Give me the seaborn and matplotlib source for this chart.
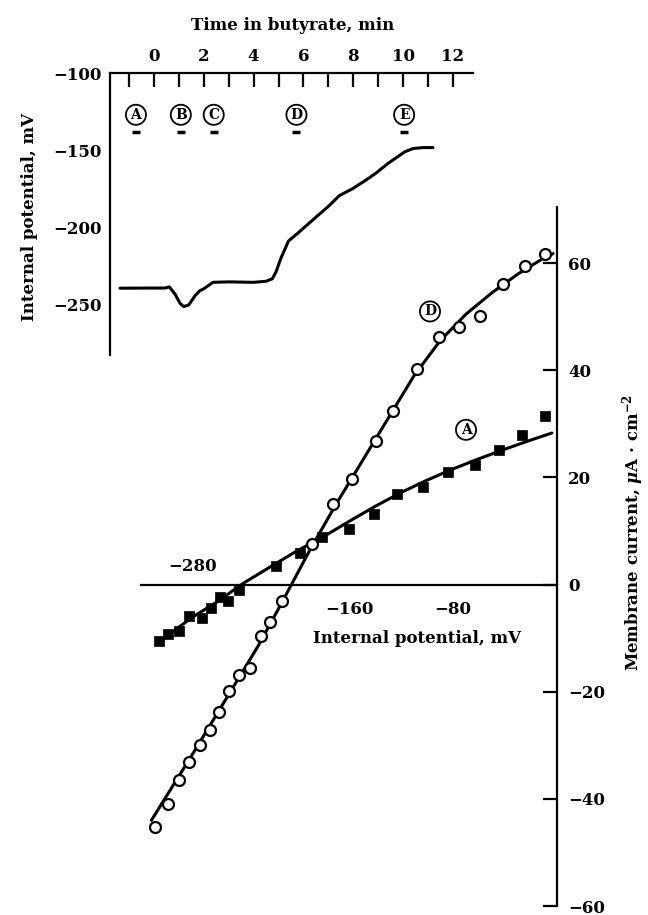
import matplotlib
matplotlib.use("Agg")
import matplotlib.pyplot as plt
import seaborn as sns

# inset: membrane potential vs time in butyrate
time_min = [-1.36, 0.44, 0.62, 0.85, 1.05, 1.2, 1.4, 1.65, 1.84, 2.0, 2.37, 3.0, 4.0, 4.5,
            4.75, 4.9, 5.1, 5.4, 5.8, 6.5, 7.0, 7.44, 7.97, 8.5, 8.9, 9.4, 10.07, 10.4, 10.8, 11.2]
potential_trace = [-239.6, -239.5, -238.8, -243.5, -249.5, -251.5, -250.5, -244.5, -241.3, -240,
                   -235.8, -235.5, -235.8, -235.1, -233.5, -229, -220, -209, -203.5, -193.5,
                   -186.5, -179.5, -175, -169.5, -165, -158.5, -151, -148.9, -148.3, -148.3]
event_labels = ["A", "B", "C", "D", "E"]
event_times = [-0.72, 1.08, 2.4, 5.72, 10.04]

# main: I-V relations, A (filled squares) and D (open circles)
a_v = [-306, -299, -291, -283, -273, -266, -259, -253, -245, -216, -198, -181, -160, -141,
       -123, -103, -84, -63, -45, -27, -9]
a_i = [-10.6, -9.2, -8.6, -5.9, -6.2, -4.4, -2.4, -3.1, -1.0, 3.5, 5.9, 8.9, 10.4, 13.2,
       16.9, 18.2, 21.1, 22.3, 25.2, 28.0, 31.4]
a_fit_v = [-308, -280, -260, -243, -220, -200, -180, -160, -140, -120, -100, -80, -60, -40, -20, -4]
a_fit_i = [-11.0, -6.0, -3.0, 0.0, 3.4, 6.3, 8.9, 11.8, 14.6, 17.2, 19.5, 21.6, 23.5, 25.3, 27.0, 28.3]

d_v = [-309, -299.5, -291, -283, -274.6, -267, -259.8, -252, -244.4, -236, -228, -220.8,
       -211.8, -188.7, -172, -158, -139, -126, -108, -90.5, -75.4, -59, -41.3, -24.6, -9.2]
d_i = [-45.2, -40.9, -36.5, -33.2, -30.0, -27.2, -23.8, -19.8, -16.9, -15.5, -9.5, -7.0,
       -3.0, 7.5, 15.1, 19.7, 26.8, 32.5, 40.2, 46.2, 48.1, 50.2, 56.2, 59.5, 61.7]
d_fit_v = [-312, -280, -250, -230, -212, -190, -170, -150, -130, -110, -90, -70, -50, -30, -10, -3]
d_fit_i = [-44.0, -31.5, -19.5, -11.5, -3.5, 6.5, 15.0, 23.0, 31.0, 39.0, 45.5, 50.5, 54.5, 58.0, 61.0, 61.8]

sns.set_style("white")
plt.rcParams["font.family"] = ["DejaVu Serif"]
plt.rcParams["font.weight"] = "bold"
plt.rcParams["axes.labelweight"] = "bold"
plt.rcParams["font.size"] = 12
plt.rcParams["mathtext.fontset"] = "dejavuserif"
for k in ["text.color", "axes.labelcolor", "xtick.color", "ytick.color"]:
    plt.rcParams[k] = "black"

fig = plt.figure(figsize=(6.48, 9.15), dpi=100)

# ---- main I-V plot ----
ax = fig.add_axes([0.2176, 0.0098, 0.642, 0.764])
ax.patch.set_visible(False)
sns.lineplot(x=a_fit_v, y=a_fit_i, color="black", lw=2.2, estimator=None, ax=ax)
sns.lineplot(x=d_fit_v, y=d_fit_i, color="black", lw=2.2, estimator=None, ax=ax)
sns.scatterplot(x=a_v, y=a_i, marker="s", s=52, color="black", edgecolor="black", linewidth=0.5,
                ax=ax, zorder=3, clip_on=False)
sns.scatterplot(x=d_v, y=d_i, marker="o", s=62, facecolor="white", edgecolor="black", linewidth=1.6,
                ax=ax, zorder=4, clip_on=False)
ax.set_xlim(-320, 0)
ax.set_ylim(-60, 70.5)
for side in ["left", "top"]:
    ax.spines[side].set_visible(False)
ax.spines["bottom"].set_position(("data", 0))
ax.spines["bottom"].set_bounds(-320, 0)
ax.spines["right"].set_bounds(-60, 70.5)
for side in ["bottom", "right"]:
    ax.spines[side].set_linewidth(1.6)
    ax.spines[side].set_color("black")
ax.yaxis.tick_right()
ax.set_yticks([-60, -40, -20, 0, 20, 40, 60])
ax.tick_params(axis="y", direction="in", length=10, width=1.6, pad=8, labelsize=12)
xt = list(range(-320, 0, 40))
ax.set_xticks(xt)
ax.set_xticklabels(["−160" if v == -160 else "−80" if v == -80 else "" for v in xt])
ax.tick_params(axis="x", direction="inout", length=11, width=1.6, pad=6, labelsize=12)
ax.text(-280, 1.8, "−280", ha="center", va="bottom", fontsize=12)
ax.set_xlabel("Internal potential, mV", fontsize=12)
ax.xaxis.set_label_coords(0.663, 0.395)
ax.yaxis.set_label_position("right")
ax.set_ylabel(r"Membrane current, $\mu$A · cm$^{-2}$", fontsize=12, rotation=90)
ax.yaxis.set_label_coords(1.151, 0.535)
circ = dict(boxstyle="circle,pad=0.22", fc="white", ec="black", lw=1.3)
ax.text(-97.7, 51, "D", ha="center", va="center", fontsize=10, bbox=circ)
ax.text(-70, 28.9, "A", ha="center", va="center", fontsize=10, bbox=circ)

# ---- inset: potential vs time ----
ax2 = fig.add_axes([0.1698, 0.612, 0.560, 0.308])
ax2.patch.set_visible(False)
sns.lineplot(x=time_min, y=potential_trace, color="black", lw=2.2, estimator=None, ax=ax2)
ax2.set_xlim(-1.76, 12.8)
ax2.set_ylim(-283, -100)
for side in ["right", "bottom"]:
    ax2.spines[side].set_visible(False)
for side in ["left", "top"]:
    ax2.spines[side].set_linewidth(1.6)
    ax2.spines[side].set_color("black")
ax2.xaxis.tick_top()
ax2.set_xticks([0, 2, 4, 6, 8, 10, 12])
ax2.set_xticks([-1, 1, 3, 5, 7, 9, 11], minor=True)
ax2.set_yticks([-100, -150, -200, -250])
ax2.set_yticklabels(["−100", "−150", "−200", "−250"])
ax2.tick_params(axis="x", which="both", direction="in", length=10, width=1.6, pad=6, labelsize=12)
ax2.tick_params(axis="y", direction="in", length=10, width=1.6, pad=6, labelsize=12)
ax2.xaxis.set_label_position("top")
ax2.set_xlabel("Time in butyrate, min", fontsize=12)
ax2.xaxis.set_label_coords(0.504, 1.152)
ax2.set_ylabel("Internal potential, mV", fontsize=12)
ax2.yaxis.set_label_coords(-0.198, 0.489)
ax2.plot(event_times, [-138] * len(event_times), ls="none", marker="_", ms=6, mew=2.5, color="black")
for lab, t in zip(event_labels, event_times):
    ax2.text(t, -127, lab, ha="center", va="center", fontsize=10, bbox=circ)

fig.savefig("out.png", dpi=100)
